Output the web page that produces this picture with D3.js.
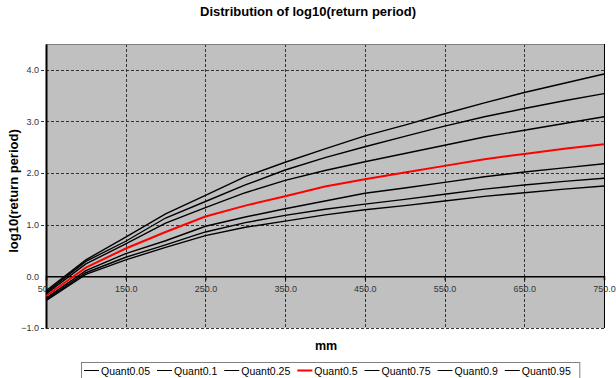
<!DOCTYPE html>
<html>
<head>
<meta charset="utf-8">
<script src="https://cdn.jsdelivr.net/npm/d3@7"></script>
<style>
  body { margin: 0; background: #fff; }
  svg { font-family: "Liberation Sans", Arial, sans-serif; }
</style>
</head>
<body>
<div id="chart"></div>
<script>
// x positions (mm) where each quantile curve is sampled
var mm = [50, 100, 150, 200, 250, 300, 350, 400, 450, 500, 550, 600, 650, 700, 750];

var q05 = [-0.47, 0.04, 0.32, 0.56, 0.79, 0.95, 1.07, 1.19, 1.29, 1.37, 1.46, 1.55, 1.62, 1.69, 1.75];
var q10 = [-0.45, 0.07, 0.37, 0.61, 0.86, 1.04, 1.18, 1.30, 1.40, 1.49, 1.59, 1.69, 1.77, 1.84, 1.90];
var q25 = [-0.42, 0.11, 0.44, 0.69, 0.97, 1.15, 1.31, 1.46, 1.61, 1.71, 1.82, 1.93, 2.02, 2.10, 2.18];
var q50 = [-0.38, 0.17, 0.54, 0.86, 1.16, 1.37, 1.55, 1.74, 1.88, 2.01, 2.14, 2.27, 2.37, 2.47, 2.56];
var q75 = [-0.34, 0.24, 0.63, 1.03, 1.33, 1.62, 1.86, 2.05, 2.22, 2.38, 2.54, 2.70, 2.83, 2.96, 3.09];
var q90 = [-0.31, 0.29, 0.68, 1.13, 1.45, 1.77, 2.06, 2.30, 2.51, 2.71, 2.91, 3.09, 3.25, 3.40, 3.54];
var q95 = [-0.28, 0.32, 0.76, 1.21, 1.57, 1.93, 2.21, 2.47, 2.72, 2.93, 3.15, 3.36, 3.56, 3.74, 3.92];

var seriesNames = ["Quant0.05", "Quant0.1", "Quant0.25", "Quant0.5", "Quant0.75", "Quant0.9", "Quant0.95"];
var seriesValues = [q05, q10, q25, q50, q75, q90, q95];
var seriesColors = ["#000", "#000", "#000", "#ff0000", "#000", "#000", "#000"];

var xTicks = [150, 250, 350, 450, 550, 650, 750];
var yTicks = [-1, 0, 1, 2, 3, 4];

var W = 616, H = 378;
var plot = { left: 46, right: 604, top: 44, bottom: 328 };

var x = d3.scaleLinear().domain([50, 750]).range([plot.left, plot.right]);
var y = d3.scaleLinear().domain([-1, 4.5]).range([plot.bottom, plot.top]);

var svg = d3.select("#chart").append("svg")
    .attr("width", W)
    .attr("height", H);

// plot background
svg.append("rect")
    .attr("x", plot.left).attr("y", plot.top)
    .attr("width", plot.right - plot.left)
    .attr("height", plot.bottom - plot.top)
    .attr("fill", "#c0c0c0");

// gridlines
svg.append("g").selectAll("line")
    .data(yTicks.filter(function (d) { return d !== 0; }))
    .enter().append("line")
    .attr("x1", plot.left - 5).attr("x2", plot.right)
    .attr("y1", function (d) { return Math.round(y(d)) + 0.5; })
    .attr("y2", function (d) { return Math.round(y(d)) + 0.5; })
    .attr("stroke", "#333")
    .attr("stroke-dasharray", "3,2");

svg.append("g").selectAll("line")
    .data(xTicks.filter(function (d) { return d !== 750; }))
    .enter().append("line")
    .attr("x1", function (d) { return Math.round(x(d)) + 0.5; })
    .attr("x2", function (d) { return Math.round(x(d)) + 0.5; })
    .attr("y1", plot.top).attr("y2", plot.bottom)
    .attr("stroke", "#333")
    .attr("stroke-dasharray", "3,2");

// frame: top grey, right thin, left thick
svg.append("line")
    .attr("x1", plot.left).attr("x2", plot.right)
    .attr("y1", plot.top + 0.5).attr("y2", plot.top + 0.5)
    .attr("stroke", "#808080");
svg.append("line")
    .attr("x1", plot.right + 0.5).attr("x2", plot.right + 0.5)
    .attr("y1", plot.top).attr("y2", plot.bottom)
    .attr("stroke", "#000");

// y axis
var yAxis = svg.append("g")
    .attr("transform", "translate(" + plot.left + ",0)")
    .call(d3.axisLeft(y).tickValues(yTicks).tickSize(0).tickPadding(7)
        .tickFormat(d3.format(".1f")));
yAxis.select(".domain").attr("stroke", "#000").attr("stroke-width", 2);
yAxis.selectAll("text")
    .attr("font-size", "9px")
    .attr("fill", "#333")
    .attr("font-family", "Liberation Sans, Arial, sans-serif");

// x axis along y = 0
var xAxis = svg.append("g")
    .attr("transform", "translate(0," + y(0) + ")")
    .call(d3.axisBottom(x).tickValues([50].concat(xTicks)).tickSize(4).tickPadding(5)
        .tickFormat(d3.format(".1f")));
xAxis.select(".domain").attr("stroke", "#000").attr("stroke-width", 1.5);
xAxis.selectAll(".tick line").attr("stroke", "#000");
xAxis.selectAll("text")
    .attr("font-size", "9px")
    .attr("fill", "#333")
    .attr("font-family", "Liberation Sans, Arial, sans-serif");

// curves
var line = d3.line()
    .x(function (d, i) { return x(mm[i]); })
    .y(function (d) { return y(d); });

svg.append("g").selectAll("path")
    .data(seriesValues)
    .enter().append("path")
    .attr("d", line)
    .attr("fill", "none")
    .attr("stroke", function (d, i) { return seriesColors[i]; })
    .attr("stroke-width", function (d, i) { return i === 3 ? 2 : 1.4; });

// titles
svg.append("text")
    .attr("x", 308).attr("y", 16)
    .attr("text-anchor", "middle")
    .attr("font-size", "13px")
    .attr("font-weight", "bold")
    .text("Distribution of log10(return period)");

svg.append("text")
    .attr("transform", "translate(18,191) rotate(-90)")
    .attr("text-anchor", "middle")
    .attr("font-size", "13px")
    .attr("font-weight", "bold")
    .text("log10(return period)");

svg.append("text")
    .attr("x", 326).attr("y", 350)
    .attr("text-anchor", "middle")
    .attr("font-size", "12.5px")
    .attr("font-weight", "bold")
    .text("mm");

// legend
var legend = svg.append("g");
var legendBox = legend.append("rect")
    .attr("x", 81.5).attr("y", 362.5)
    .attr("height", 30)
    .attr("fill", "#fff")
    .attr("stroke", "#808080");

var cx = 84;
seriesNames.forEach(function (name, i) {
    legend.append("line")
        .attr("x1", cx).attr("x2", cx + 15)
        .attr("y1", 370.5).attr("y2", 370.5)
        .attr("stroke", seriesColors[i])
        .attr("stroke-width", i === 3 ? 2 : 1);
    var t = legend.append("text")
        .attr("x", cx + 17).attr("y", 374.5)
        .attr("font-size", "10.5px")
        .attr("fill", "#000")
        .text(name);
    cx += 17 + t.node().getComputedTextLength() + 7;
});
legendBox.attr("width", cx - 81.5 + 2);
</script>
</body>
</html>
